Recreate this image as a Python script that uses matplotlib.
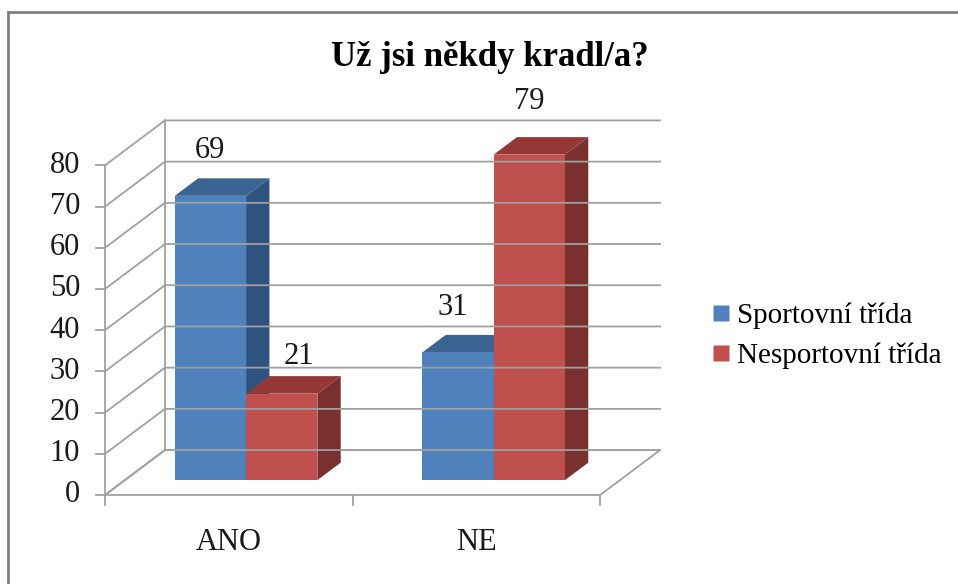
import matplotlib.pyplot as plt
from matplotlib.patches import Polygon
from matplotlib.lines import Line2D

categories = ['ANO', 'NE']
series = ['Sportovní třída', 'Nesportovní třída']
sport = [69, 31]
nesport = [21, 79]
yticks = [0, 10, 20, 30, 40, 50, 60, 70, 80]

plt.rcParams['font.family'] = ['Liberation Serif', 'DejaVu Serif']

fig = plt.figure(figsize=(9.58, 5.84), dpi=100)
# axes: x in category units, y in value units (front plane)
ax = fig.add_axes([105 / 958, (584 - 495) / 584, 557 / 958, 375 / 584])
ax.set_xlim(0, 2.25)
ax.set_ylim(0, 91)
ax.axis('off')

DX, DY = 0.242, 10.9     # full depth offset of the 3D box
grid_c = '#A0A0A0'
txt_c = '#1a1a1a'


def proj(x, v, d):
    return (x + d * DX, v + d * DY)


# walls and gridlines
for t in yticks:
    p0 = proj(0, t, 0)
    p1 = proj(0, t, 1)
    p2 = proj(2, t, 1)
    ax.plot([p0[0], p1[0], p2[0]], [p0[1], p1[1], p2[1]], color=grid_c, lw=1.3, clip_on=False)
    ax.plot([-0.035, 0], [t, t], color=grid_c, lw=1.3, clip_on=False)
    ax.text(-0.1, t, str(t), ha='right', va='center', fontsize=22, color=txt_c)

# left back vertical and front axis
b0, b1 = proj(0, 0, 1), proj(0, 80, 1)
ax.plot([b0[0], b1[0]], [b0[1], b1[1]], color=grid_c, lw=1.3, clip_on=False)
ax.plot([0, 0], [0, 80], color=grid_c, lw=1.3, clip_on=False)

# floor
floor = [proj(0, 0, 0), proj(2, 0, 0), proj(2, 0, 1), proj(0, 0, 1)]
ax.add_patch(Polygon(floor, closed=True, fill=False, edgecolor=grid_c, lw=1.3, clip_on=False))
for xt in [0, 1, 2]:
    ax.plot([xt, xt], [0, -2.5], color=grid_c, lw=1.3, clip_on=False)

for i, c in enumerate(categories):
    ax.text(i + 0.5, -11.5, c, ha='center', va='center', fontsize=22, color=txt_c)

# bars
bw = 0.288
d0, d1 = 0.33, 0.72
colors = [('#4F81BD', '#3B6492', '#2F5380'), ('#C0504D', '#953735', '#7A302E')]
data = [sport, nesport]
label_dx = [[0, -0.02], [0.07, 0]]
label_dv = [[11, 11], [9, 13]]
for i in range(len(categories)):
    for s in range(len(series)):
        v = data[s][i]
        x0 = i + 0.5 - bw + s * bw - 0.01
        x1 = x0 + bw
        front, top, side = colors[s]
        fa = [proj(x0, 0, d0), proj(x1, 0, d0), proj(x1, v, d0), proj(x0, v, d0)]
        tp = [proj(x0, v, d0), proj(x1, v, d0), proj(x1, v, d1), proj(x0, v, d1)]
        sd = [proj(x1, 0, d0), proj(x1, 0, d1), proj(x1, v, d1), proj(x1, v, d0)]
        ax.add_patch(Polygon(sd, closed=True, facecolor=side, edgecolor='none', clip_on=False))
        ax.add_patch(Polygon(tp, closed=True, facecolor=top, edgecolor='none', clip_on=False))
        ax.add_patch(Polygon(fa, closed=True, facecolor=front, edgecolor='none', clip_on=False))
        lx, ly = proj((x0 + x1) / 2 + label_dx[s][i], v + label_dv[s][i], d0)
        ax.text(lx, ly, str(v), ha='center', va='center', fontsize=22, color=txt_c)

fig.text(490 / 958, 1 - 58 / 584, 'Už jsi někdy kradl/a?', ha='center', va='center',
         fontsize=25, fontweight='bold')

handles = [Line2D([], [], marker='s', linestyle='none', markersize=11,
                  markerfacecolor=colors[k][0], markeredgecolor='none') for k in range(2)]
fig.legend(handles, series, loc='center left', bbox_to_anchor=(706 / 958, 1 - 336 / 584),
           frameon=False, fontsize=21, handletextpad=0.05, labelspacing=0.45, handlelength=1.0,
           borderaxespad=0, borderpad=0)

# outer border (left and top only)
fig.add_artist(Line2D([8 / 958, 8 / 958], [0, 1 - 12 / 584], transform=fig.transFigure, color='#808080', lw=2))
fig.add_artist(Line2D([8 / 958, 1], [1 - 12 / 584, 1 - 12 / 584], transform=fig.transFigure, color='#808080', lw=2))

fig.savefig('out.png', dpi=100)
